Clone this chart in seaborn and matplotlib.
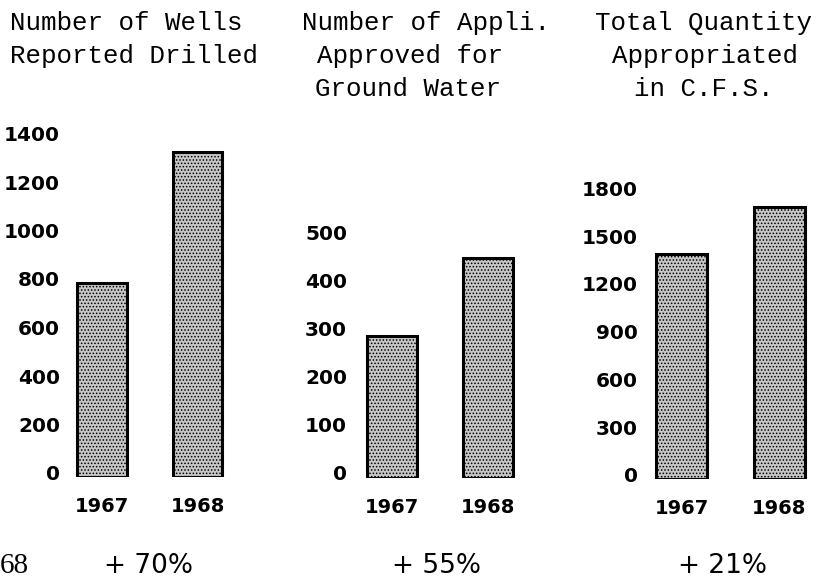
import matplotlib
matplotlib.use("Agg")
import matplotlib.pyplot as plt
import matplotlib.transforms as mtransforms
import seaborn as sns

# values
years = ["1967", "1968"]
wells_drilled = [800, 1340]
applications_approved = [296, 459]
quantity_cfs = [1410, 1710]

wells_ticks = [0, 200, 400, 600, 800, 1000, 1200, 1400]
appl_ticks = [0, 100, 200, 300, 400, 500]
cfs_ticks = [0, 300, 600, 900, 1200, 1500, 1800]

headers = [
    ["Number of Wells", "Reported Drilled"],
    ["Number of Appli.", "Approved for", "Ground Water"],
    ["Total Quantity", "Appropriated", "in C.F.S."],
]
pct_change = ["+ 70%", "+ 55%", "+ 21%"]

sns.set_theme(style="white")
plt.rcParams["hatch.linewidth"] = 0.7
plt.rcParams["text.color"] = "black"
plt.rcParams["xtick.color"] = "black"
plt.rcParams["ytick.color"] = "black"

W, H = 817, 584
fig = plt.figure(figsize=(W / 100, H / 100), dpi=100)


def px_axes(left, right, baseline, height):
    # axes box given in pixel coordinates of the 817x584 canvas
    return fig.add_axes([left / W, (H - baseline) / H, (right - left) / W, height / H])


panels = [
    # values, ticks, ymax, left px, right px, baseline px, px per unit, xlim, label lift px
    (wells_drilled, wells_ticks, 1400, 66, 260, 477, 0.2425, (-0.377, 1.654), 2),
    (applications_approved, appl_ticks, 500, 353, 560, 478, 0.48, (-0.406, 1.75), 3),
    (quantity_cfs, cfs_ticks, 1800, 644, 817, 479, 0.1593, (-0.383, 1.383), 2),
]

for vals, ticks, ymax, left, right, base, scale, xlim, lift in panels:
    ax = px_axes(left, right, base, ymax * scale)
    sns.barplot(x=years, y=vals, ax=ax, color="#c6c6c6", width=0.52,
                edgecolor="black", linewidth=2.2, saturation=1)
    for bar in ax.patches:
        bar.set_hatch(".....")
    ax.set_ylim(0, ymax)
    ax.set_xlim(*xlim)

    # the hand-lettered scale sits a little above the bar baseline,
    # so the y labels are placed as text with a small offset
    ax.set_yticks([])
    shift = mtransforms.ScaledTranslation(-6 / 100, lift / 100, fig.dpi_scale_trans)
    trans = mtransforms.blended_transform_factory(ax.transAxes, ax.transData) + shift
    for t in ticks:
        ax.text(0, t, str(t), transform=trans, ha="right", va="center",
                fontsize=14.5, fontweight="bold")

    ax.set_xticks([0, 1])
    ax.set_xticklabels(years, fontsize=14, fontweight="bold")
    ax.tick_params(axis="x", length=0, pad=14.5)
    ax.set_xlabel("")
    ax.set_ylabel("")
    sns.despine(ax=ax, left=True, bottom=True)
    ax.patch.set_alpha(0)

# typewriter headers, one line at a time
header_x = [[10, 10], [302, 317, 315], [595, 612, 634]]
line_y = [23, 56, 89]
for lines, xs in zip(headers, header_x):
    for line, x, y in zip(lines, xs, line_y):
        fig.text(x / W, 1 - y / H, line, family="Liberation Mono",
                 fontsize=18.6, ha="left", va="center")

# percent change row
for label, x in zip(pct_change, [148, 436, 723]):
    fig.text(x / W, 1 - 566 / H, label, fontsize=19, ha="center", va="center")
fig.text(0 / W, 1 - 566 / H, "68", family="Liberation Serif",
         fontsize=21, ha="left", va="center")

plt.savefig("out.png", dpi=100)
